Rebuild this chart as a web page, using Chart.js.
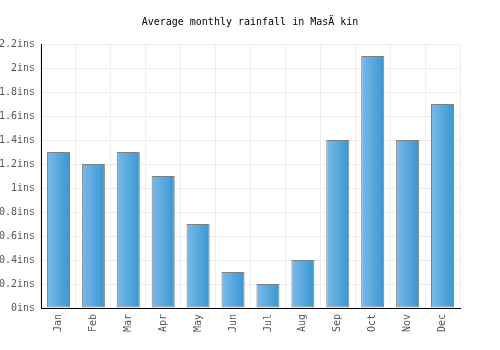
<!DOCTYPE html>
<html>
<head>
<meta charset="utf-8">
<script src="https://cdn.jsdelivr.net/npm/chart.js@4/dist/chart.umd.min.js"></script>
<style>
  html, body { margin: 0; padding: 0; background: #fff; }
  #wrap { width: 500px; height: 350px; }
</style>
</head>
<body>
<div id="wrap"><canvas id="rainChart"></canvas></div>
<script>
const months = ['Jan', 'Feb', 'Mar', 'Apr', 'May', 'Jun', 'Jul', 'Aug', 'Sep', 'Oct', 'Nov', 'Dec'];
const rainfall = [1.3, 1.2, 1.3, 1.1, 0.7, 0.3, 0.2, 0.4, 1.4, 2.1, 1.4, 1.7];
const yMax = 2.2;
const yStep = 0.2;

const monoFont = "'DejaVu Sans Mono', 'Liberation Mono', monospace";

// horizontal light-to-dark gradient on each bar
function barGradient(ctx) {
    const chart = ctx.chart;
    const xScale = chart.scales.x;
    if (!chart.chartArea || !xScale) return '#4fa3de';
    const cx = xScale.getPixelForValue(ctx.dataIndex);
    const half = xScale.width / months.length * 0.66 / 2;
    const g = chart.ctx.createLinearGradient(cx - half, 0, cx + half, 0);
    g.addColorStop(0, '#7cb9ea');
    g.addColorStop(1, '#3797d0');
    return g;
}

new Chart(document.getElementById('rainChart'), {
    type: 'bar',
    data: {
        labels: months,
        datasets: [{
            data: rainfall,
            backgroundColor: barGradient,
            borderColor: '#808080',
            borderWidth: 1,
            borderSkipped: false,
            barPercentage: 0.66,
            categoryPercentage: 1
        }]
    },
    options: {
        responsive: true,
        maintainAspectRatio: false,
        animation: false,
        layout: {
            padding: 0
        },
        plugins: {
            legend: { display: false },
            tooltip: { enabled: false },
            title: {
                display: true,
                text: 'Average monthly rainfall in MasÄ kin',
                color: '#000',
                font: { family: monoFont, size: 10, weight: 'normal' },
                padding: { top: 16, bottom: 16 }
            }
        },
        scales: {
            y: {
                min: 0,
                max: yMax,
                afterFit: function (scale) { scale.width = 41; },
                ticks: {
                    stepSize: yStep,
                    color: '#555',
                    padding: 6,
                    font: { family: monoFont, size: 10 },
                    callback: function (v) { return (Math.round(v * 10) / 10) + 'ins'; }
                },
                grid: { color: '#eeeeee', drawTicks: false },
                border: { color: '#000', width: 1 }
            },
            // empty right axis only reserves the right margin
            yRight: {
                position: 'right',
                grid: { display: false },
                border: { display: false },
                ticks: { display: false },
                afterFit: function (scale) { scale.width = 40; }
            },
            x: {
                afterFit: function (scale) { scale.height = 42; },
                ticks: {
                    color: '#555',
                    maxRotation: 90,
                    minRotation: 90,
                    padding: 6,
                    font: { family: monoFont, size: 10 }
                },
                grid: { color: '#eeeeee', offset: true, drawTicks: false },
                border: { color: '#000', width: 1 }
            }
        }
    }
});
</script>
</body>
</html>
